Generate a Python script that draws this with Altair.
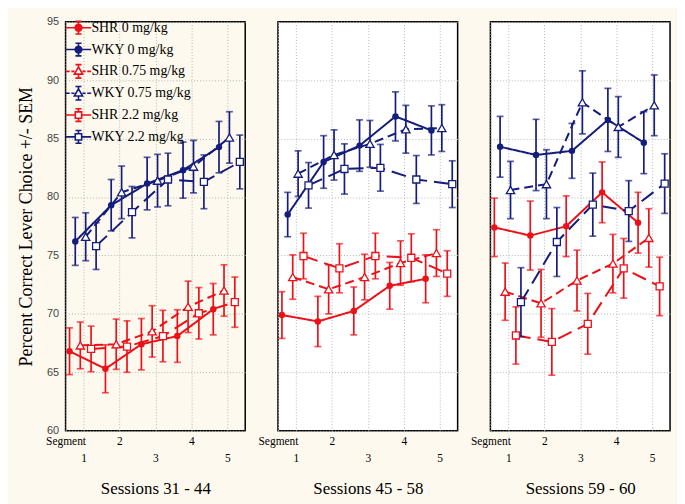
import altair as alt
import pandas as pd

panels = ["Sessions 31 - 44", "Sessions 45 - 58", "Sessions 59 - 60"]
series = ["SHR 0 mg/kg", "WKY 0 mg/kg", "SHR 0.75 mg/kg",
          "WKY 0.75 mg/kg", "SHR 2.2 mg/kg", "WKY 2.2 mg/kg"]
segments = [1, 2, 3, 4, 5]
y_ticks = [60, 65, 70, 75, 80, 85, 90, 95]

# means per series (order as in `series`), Sessions 31 - 44
means_31_44 = [
    [66.8, 65.3, 67.4, 68.1, 70.4],
    [76.2, 79.3, 81.15, 82.3, 84.27],
    [67.3, 67.4, 68.5, 70.6, 72.0],
    [76.6, 80.4, 81.4, 82.6, 85.1],
    [67.0, 67.2, 68.1, 70.05, 71.0],
    [75.8, 78.7, 81.5, 81.3, 83.0],
]
sems_31_44 = [
    [2.0, 2.05, 2.2, 2.25, 2.2],
    [2.05, 2.2, 2.25, 2.4, 2.2],
    [2.0, 2.15, 2.2, 2.2, 2.2],
    [2.05, 2.25, 2.25, 2.25, 2.2],
    [1.95, 2.2, 2.2, 2.2, 2.15],
    [2.0, 2.2, 2.25, 2.3, 2.3],
]
means_45_58 = [
    [69.9, 69.35, 70.25, 72.4, 73.0],
    [78.5, 83.0, 84.4, 86.9, 85.7],
    [73.15, 72.1, 73.15, 74.35, 75.2],
    [82.0, 83.6, 84.55, 85.8, 85.9],
    [74.95, 73.9, 74.95, 74.8, 73.45],
    [81.0, 82.4, 82.5, 81.5, 81.1],
]
sems_45_58 = [
    [2.0, 2.15, 2.05, 2.0, 2.05],
    [1.9, 2.25, 2.2, 2.1, 2.1],
    [1.9, 2.1, 1.95, 1.9, 2.0],
    [1.95, 2.15, 2.0, 2.05, 2.0],
    [1.95, 2.1, 1.95, 2.05, 1.95],
    [1.95, 2.15, 2.0, 2.05, 2.0],
]
means_59_60 = [
    [77.4, 76.7, 77.5, 80.4, 77.8],
    [84.3, 83.6, 83.95, 86.6, 84.65],
    [71.9, 70.9, 72.85, 74.3, 76.5],
    [80.6, 81.1, 88.1, 86.0, 87.85],
    [68.15, 67.6, 69.15, 73.9, 72.35],
    [71.0, 76.15, 79.35, 78.8, 81.15],
]
sems_59_60 = [
    [2.5, 2.95, 2.6, 2.6, 2.6],
    [2.6, 3.05, 2.35, 2.7, 2.65],
    [2.45, 2.9, 2.6, 2.5, 2.5],
    [2.45, 2.95, 2.7, 2.6, 2.6],
    [2.45, 2.85, 2.6, 2.55, 2.5],
    [2.95, 2.95, 2.7, 2.6, 2.55],
]

# ---- styling ----
RED = "#EC1118"
NAVY = "#141C7C"
colors = [RED, NAVY, RED, NAVY, RED, NAVY]
fills = [RED, NAVY, "white", "white", "white", "white"]
dashes = [[1, 0], [1, 0], [9, 5], [9, 5], [15, 7], [15, 7]]
dodge = [-0.39, -0.23, -0.09, 0.06, 0.21, 0.35]
markers = ["circle", "circle", "triangle-up", "triangle-up", "square", "square"]
SERIF = "Liberation Serif"

ebar_c = "M0,-0.42V-0.8M-0.38,-0.8H0.38M0,0.42V0.8M-0.38,0.8H0.38"
ebar_t = "M0,-0.55V-0.85M-0.38,-0.85H0.38M0,0.35V0.85M-0.38,0.85H0.38"
ebar_s = "M0,-0.4V-0.8M-0.38,-0.8H0.38M0,0.4V0.8M-0.38,0.8H0.38"
solid = "M-1.6,0H-0.42M0.42,0H1.6"
dashed = "M-1.6,0H-1.1M-0.9,0H-0.5M0.5,0H0.9M1.1,0H1.6"
circ = "M0.42,0A0.42,0.42,0,1,1,-0.42,0A0.42,0.42,0,1,1,0.42,0Z"
tri = "M0,-0.55L0.52,0.35L-0.52,0.35Z"
sq = "M-0.4,-0.4H0.4V0.4H-0.4Z"
legend_paths = [
    solid + ebar_c + circ, solid + ebar_c + circ,
    dashed + ebar_t + tri, dashed + ebar_t + tri,
    solid + ebar_s + sq, solid + ebar_s + sq,
]

rows = []
for pname, M, S in [(panels[0], means_31_44, sems_31_44),
                    (panels[1], means_45_58, sems_45_58),
                    (panels[2], means_59_60, sems_59_60)]:
    for i, s in enumerate(series):
        for j, seg in enumerate(segments):
            rows.append(dict(panel=pname, series=s, idx=i, seg=seg,
                             mean=M[i][j], sem=S[i][j]))
df = pd.DataFrame(rows)
df["lo"] = df["mean"] - df["sem"]
df["hi"] = df["mean"] + df["sem"]
df["xpos"] = df["seg"] + df["idx"].map(lambda k: dodge[k])
df["marker"] = df["idx"].map(lambda k: markers[k])

color_enc = alt.Color("series:N", scale=alt.Scale(domain=series, range=colors), legend=None)

label_expr = ("datum.value < 0.9 ? 'Segment' : "
              "(datum.value % 2 == 0 ? datum.label : ['', datum.label])")


def x_enc(title):
    return alt.X("xpos:Q",
                 scale=alt.Scale(domain=[0.5, 5.5], nice=False, zero=False),
                 axis=alt.Axis(values=[0.5, 1, 2, 3, 4, 5], labelExpr=label_expr,
                               title=title, grid=True, ticks=False, domain=False,
                               labelFlush=False, labelOverlap=False,
                               labelFont=SERIF, labelFontSize=11.5, labelColor="black",
                               labelPadding=5, labelLineHeight=17,
                               titleFont=SERIF, titleFontSize=17, titleFontWeight="normal",
                               titleColor="black", titlePadding=17))


def y_axis(first):
    if first:
        return alt.Axis(values=y_ticks, title="Percent Correct Lever Choice +/- SEM",
                        grid=True, ticks=False, domain=False,
                        labelFont="Liberation Sans", labelFontSize=11, labelColor="#444",
                        labelPadding=7, titleFont=SERIF, titleFontSize=18,
                        titleFontWeight="normal", titleColor="black", titlePadding=11)
    return alt.Axis(values=y_ticks, title=None, grid=True, ticks=False,
                    domain=False, labels=False)


yscale = alt.Scale(domain=[60, 95], nice=False, zero=False)


def panel(pname, first):
    d = df[df["panel"] == pname]
    base = alt.Chart(d)
    x = x_enc(pname)
    lines = base.mark_line(strokeWidth=2).encode(
        x=x,
        y=alt.Y("mean:Q", scale=yscale, axis=y_axis(first)),
        color=color_enc,
        strokeDash=alt.StrokeDash("series:N", scale=alt.Scale(domain=series, range=dashes), legend=None),
        detail="series:N",
        order="xpos:Q",
    )
    rules = base.mark_rule(strokeWidth=1.7).encode(
        x=x, y=alt.Y("lo:Q", scale=yscale, axis=y_axis(first)), y2="hi:Q", color=color_enc)
    cap_lo = base.mark_tick(orient="horizontal", size=7, thickness=1.7).encode(
        x=x, y=alt.Y("lo:Q", scale=yscale, axis=y_axis(first)), color=color_enc)
    cap_hi = base.mark_tick(orient="horizontal", size=7, thickness=1.7).encode(
        x=x, y=alt.Y("hi:Q", scale=yscale, axis=y_axis(first)), color=color_enc)
    pts_c = base.transform_filter("datum.marker == 'circle'").mark_point(
        shape="circle", filled=True, size=42, opacity=1).encode(
        x=x, y=alt.Y("mean:Q", scale=yscale, axis=y_axis(first)), color=color_enc)
    pts_t = base.transform_filter("datum.marker == 'triangle-up'").mark_point(
        shape="triangle-up", filled=False, fill="white", size=70, strokeWidth=1.3, opacity=1).encode(
        x=x, y=alt.Y("mean:Q", scale=yscale, axis=y_axis(first)), color=color_enc)
    pts_s = base.transform_filter("datum.marker == 'square'").mark_point(
        shape="square", filled=False, fill="white", size=50, strokeWidth=1.3, opacity=1).encode(
        x=x, y=alt.Y("mean:Q", scale=yscale, axis=y_axis(first)), color=color_enc)
    layers = [lines, rules, cap_lo, cap_hi, pts_c, pts_t, pts_s]
    if first:
        leg = alt.Legend(title=None, orient="none", legendX=4, legendY=-3, padding=0,
                         labelOffset=4, symbolSize=256, symbolStrokeWidth=1.6,
                         symbolOpacity=1,
                         labelFont=SERIF, labelFontSize=14, labelColor="black",
                         rowPadding=2, labelLimit=200)
        legend_layer = base.transform_filter("false").mark_point(size=256, opacity=1).encode(
            shape=alt.Shape("series:N", scale=alt.Scale(domain=series, range=legend_paths), legend=leg),
            stroke=alt.Stroke("series:N", scale=alt.Scale(domain=series, range=colors), legend=leg),
            fill=alt.Fill("series:N", scale=alt.Scale(domain=series, range=fills), legend=leg),
        )
        layers.append(legend_layer)
    return alt.layer(*layers).properties(width=181, height=412)


chart = alt.hconcat(
    panel(panels[0], True), panel(panels[1], False), panel(panels[2], False),
    spacing=33, bounds="flush",
).resolve_legend(
    shape="independent", stroke="independent", fill="independent"
).configure(
    background="#FDF9EE",
    padding={"left": 9, "top": 5, "right": 5, "bottom": 5},
).configure_view(
    stroke="black", strokeWidth=1.5, fill="white"
).configure_axis(
    gridDash=[1, 2], gridColor="#b5b5b5", gridWidth=1
)

chart.save("out.html", embed_options={"renderer": "svg", "actions": False})
